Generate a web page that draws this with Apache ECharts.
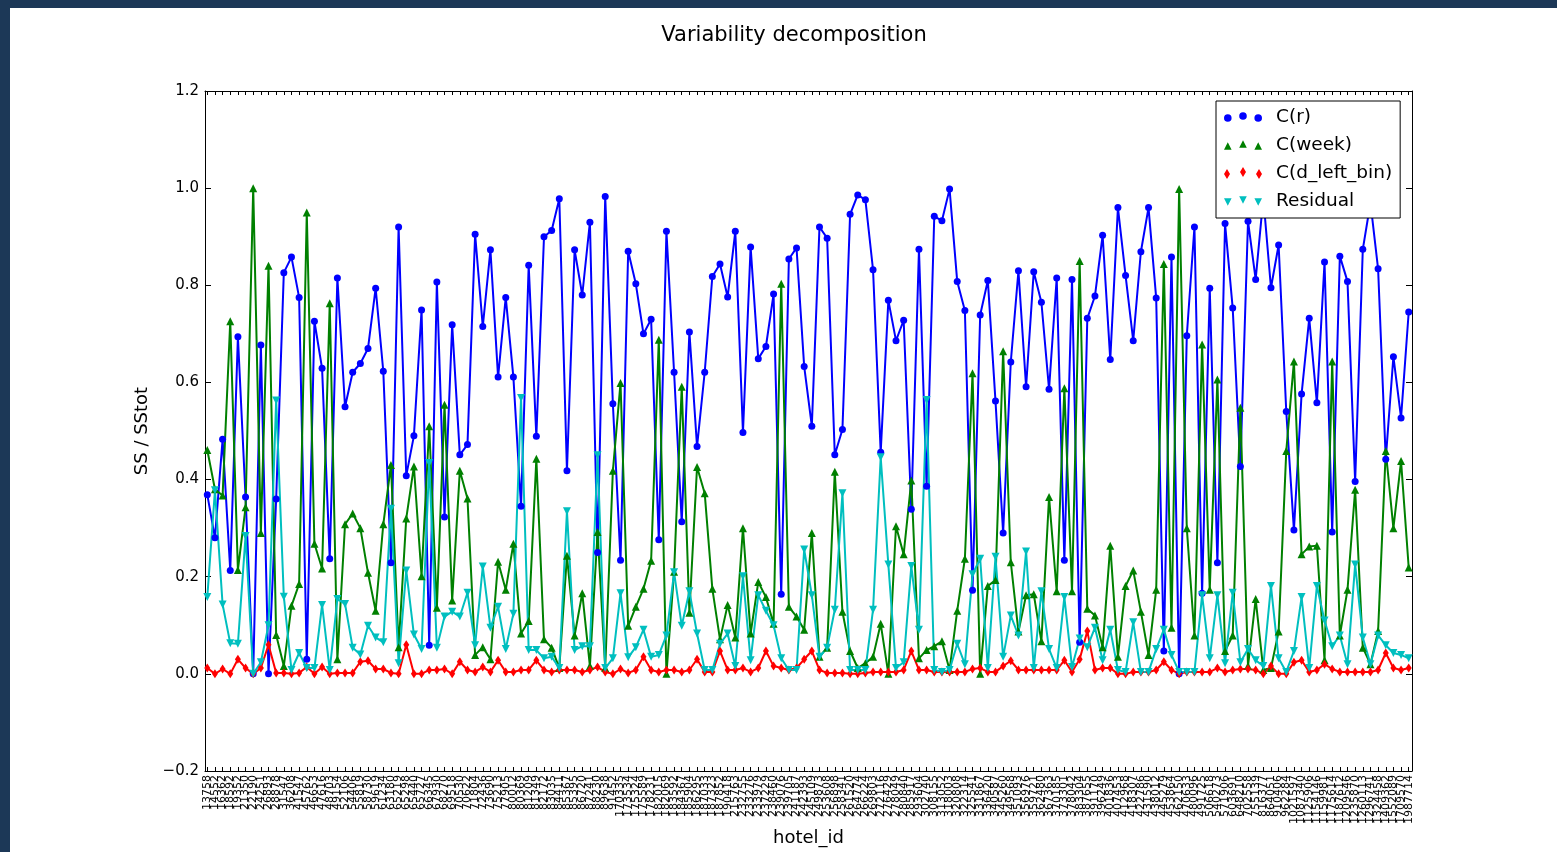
<!DOCTYPE html>
<html><head><meta charset="utf-8">
<script src="https://cdn.jsdelivr.net/npm/echarts@6/dist/echarts.min.js"></script>
<style>
html,body{margin:0;padding:0;background:#1c3857;width:1557px;height:852px;overflow:hidden}
#c{position:absolute;left:10px;top:8px;width:1547px;height:844px;background:#fff}
</style></head><body><div id="c"></div>
<script>
const hotelIds = [
13758,14552,16362,18592,19352,21350,22190,24251,26893,28878,
31547,36208,41547,45762,46653,47616,48703,49154,52106,54406,
55819,58730,59619,61234,63180,65219,65298,65440,65727,66345,
67930,68270,69518,70530,70622,71804,72436,73690,75213,77905,
80012,80369,81209,81349,82172,83035,84411,85367,85395,86720,
87241,88230,89638,91452,170335,173534,175324,175589,178231,182015,
182069,183592,184367,185904,186295,187033,187323,187852,190418,215763,
232755,233276,233979,237229,238460,239076,239705,241187,242393,245109,
249873,253608,256898,258341,261520,264774,266224,269803,272116,276429,
278049,280840,285917,293604,302740,308155,313052,318003,320808,322314,
325541,331867,336420,340587,345260,349568,351093,356976,359721,362480,
367363,370185,373301,378042,383304,387655,391170,396249,401836,407453,
412968,418307,422786,431590,438012,445279,453864,462150,470633,480096,
491725,506618,540273,571906,603691,648210,702558,755139,816377,864051,
910406,962284,1021597,1087340,1125906,1154146,1159981,1175614,1187612,1209546,
1235870,1260113,1296741,1324458,1409362,1552089,1709570,1987714];

const cR = [
0.369,0.28,0.483,0.213,0.694,0.364,0.0,0.677,0.0,0.36,
0.826,0.858,0.775,0.03,0.726,0.629,0.237,0.815,0.55,0.621,
0.639,0.67,0.794,0.623,0.229,0.92,0.408,0.49,0.749,0.059,
0.807,0.323,0.719,0.451,0.472,0.905,0.715,0.873,0.611,0.775,
0.611,0.345,0.841,0.489,0.90,0.913,0.978,0.418,0.873,0.78,
0.93,0.25,0.983,0.556,0.234,0.87,0.803,0.70,0.73,0.276,
0.911,0.621,0.313,0.704,0.468,0.621,0.818,0.844,0.776,0.911,
0.497,0.879,0.649,0.674,0.782,0.164,0.854,0.877,0.633,0.51,
0.92,0.897,0.451,0.503,0.946,0.986,0.976,0.832,0.456,0.769,
0.686,0.728,0.339,0.874,0.386,0.942,0.933,0.998,0.808,0.748,
0.172,0.739,0.81,0.562,0.29,0.642,0.83,0.591,0.828,0.765,
0.586,0.815,0.234,0.812,0.065,0.732,0.778,0.903,0.647,0.96,
0.82,0.686,0.869,0.96,0.774,0.047,0.858,0.0,0.696,0.92,
0.166,0.794,0.229,0.927,0.753,0.427,0.932,0.812,0.98,0.795,
0.883,0.54,0.296,0.576,0.732,0.558,0.848,0.292,0.86,0.808,
0.396,0.874,0.97,0.834,0.442,0.653,0.527,0.745];

const cWeek = [
0.461,0.38,0.367,0.726,0.214,0.343,1.0,0.29,0.84,0.08,
0.016,0.14,0.185,0.95,0.268,0.217,0.763,0.03,0.308,0.33,
0.30,0.208,0.13,0.308,0.43,0.055,0.32,0.427,0.201,0.51,
0.136,0.554,0.151,0.418,0.361,0.039,0.055,0.03,0.231,0.173,
0.268,0.083,0.109,0.443,0.071,0.054,0.012,0.243,0.079,0.166,
0.016,0.292,0.012,0.418,0.599,0.099,0.138,0.175,0.233,0.688,
0.0,0.21,0.591,0.126,0.426,0.372,0.175,0.071,0.142,0.075,
0.30,0.083,0.189,0.158,0.103,0.803,0.138,0.118,0.091,0.29,
0.035,0.054,0.416,0.128,0.047,0.012,0.022,0.035,0.103,0.0,
0.304,0.246,0.398,0.032,0.049,0.057,0.067,0.008,0.13,0.237,
0.619,0.0,0.181,0.193,0.664,0.23,0.087,0.162,0.164,0.067,
0.364,0.17,0.588,0.17,0.85,0.134,0.12,0.055,0.264,0.035,
0.181,0.213,0.128,0.039,0.173,0.844,0.095,0.998,0.30,0.079,
0.678,0.173,0.606,0.047,0.079,0.548,0.016,0.154,0.008,0.012,
0.087,0.459,0.643,0.246,0.262,0.264,0.028,0.643,0.079,0.173,
0.379,0.054,0.02,0.088,0.459,0.30,0.438,0.219];

const cDLeft = [
0.012,0.0,0.01,0.0,0.03,0.012,0.0,0.012,0.06,0.002,
0.002,0.0,0.002,0.014,0.0,0.014,0.0,0.002,0.002,0.002,
0.025,0.027,0.01,0.01,0.002,0.0,0.06,0.0,0.0,0.008,
0.008,0.01,0.0,0.025,0.008,0.004,0.014,0.004,0.028,0.004,
0.004,0.008,0.008,0.028,0.008,0.004,0.008,0.008,0.008,0.004,
0.008,0.014,0.004,0.0,0.01,0.002,0.008,0.035,0.008,0.004,
0.008,0.008,0.004,0.008,0.03,0.004,0.004,0.047,0.008,0.008,
0.012,0.004,0.012,0.047,0.016,0.012,0.008,0.012,0.03,0.047,
0.008,0.002,0.002,0.002,0.0,0.0,0.002,0.004,0.004,0.004,
0.004,0.008,0.047,0.008,0.008,0.004,0.004,0.004,0.004,0.004,
0.01,0.012,0.004,0.004,0.016,0.027,0.008,0.008,0.008,0.008,
0.008,0.008,0.028,0.004,0.03,0.088,0.008,0.012,0.012,0.0,
0.0,0.004,0.004,0.004,0.008,0.025,0.008,0.0,0.004,0.004,
0.004,0.004,0.012,0.004,0.008,0.01,0.01,0.008,0.0,0.016,
0.0,0.0,0.024,0.028,0.004,0.008,0.02,0.01,0.004,0.004,
0.004,0.004,0.004,0.008,0.043,0.012,0.008,0.012];

const residual = [
0.158,0.378,0.143,0.063,0.062,0.284,0.0,0.024,0.10,0.563,
0.159,0.008,0.043,0.012,0.012,0.142,0.008,0.154,0.144,0.054,
0.04,0.099,0.075,0.065,0.34,0.022,0.213,0.081,0.051,0.434,
0.054,0.118,0.128,0.118,0.167,0.059,0.221,0.095,0.138,0.051,
0.124,0.568,0.049,0.049,0.032,0.035,0.012,0.335,0.049,0.057,
0.057,0.45,0.012,0.032,0.166,0.034,0.055,0.091,0.035,0.039,
0.079,0.209,0.099,0.17,0.083,0.008,0.008,0.062,0.083,0.016,
0.201,0.028,0.162,0.13,0.10,0.032,0.008,0.008,0.256,0.162,
0.035,0.054,0.132,0.372,0.008,0.008,0.008,0.132,0.446,0.225,
0.012,0.024,0.222,0.091,0.564,0.008,0.004,0.008,0.062,0.02,
0.205,0.237,0.012,0.241,0.035,0.12,0.079,0.252,0.012,0.17,
0.051,0.012,0.158,0.014,0.073,0.055,0.095,0.028,0.091,0.008,
0.004,0.106,0.004,0.004,0.051,0.091,0.039,0.004,0.004,0.004,
0.162,0.032,0.162,0.022,0.167,0.024,0.051,0.028,0.016,0.181,
0.032,0.004,0.047,0.158,0.012,0.181,0.11,0.057,0.079,0.02,
0.225,0.075,0.02,0.079,0.059,0.043,0.039,0.032];

const seriesNames = ['C(r)','C(week)','C(d_left_bin)','Residual'];

const FONT = 'DejaVu Sans';
const idx = hotelIds.map((_, i) => i);
const toPts = arr => arr.map((v, i) => [i, v]);

function circ(cx, cy, r){return 'M'+(cx-r)+','+cy+'a'+r+','+r+' 0 1,0 '+(2*r)+',0a'+r+','+r+' 0 1,0 '+(-2*r)+',0Z';}
function triUp(cx, cy, h){return 'M'+(cx-h)+','+(cy+h)+'L'+cx+','+(cy-h)+'L'+(cx+h)+','+(cy+h)+'Z';}
function triDown(cx, cy, h){return 'M'+(cx-h)+','+(cy-h)+'L'+(cx+h)+','+(cy-h)+'L'+cx+','+(cy+h)+'Z';}
function dia(cx, cy, w, h){return 'M'+cx+','+(cy-h)+'L'+(cx+w)+','+cy+'L'+cx+','+(cy+h)+'L'+(cx-w)+','+cy+'Z';}
const centers = [[4,7],[20,5],[36,7]];
const icons = [
  'path://' + centers.map(c => circ(c[0], c[1], 4)).join(''),
  'path://' + centers.map(c => triUp(c[0], c[1], 4)).join(''),
  'path://' + centers.map(c => dia(c[0], c[1], 3, 5)).join(''),
  'path://' + centers.map(c => triDown(c[0], c[1], 4)).join('')
];
const colors = ['#0000ff','#008000','#ff0000','#00bfbf'];

const chart = echarts.init(document.getElementById('c'), null, {renderer:'canvas'});
const xMin = -0.3, xMax = 157.43;
const axisLineStyle = {color:'#000', width:1};
chart.setOption({
  animation:false,
  backgroundColor:'#ffffff',
  title:{text:'Variability decomposition', left:779, top:12, textAlign:'center',
    textStyle:{fontFamily:FONT, fontSize:21, fontWeight:'normal', color:'#000'}},
  legend:{
    orient:'vertical', left:1206, top:93,
    padding:[6,8,7,8], itemGap:8, itemWidth:38, itemHeight:12,
    backgroundColor:'#fff', borderColor:'#000', borderWidth:1, borderRadius:0,
    textStyle:{fontFamily:FONT, fontSize:18.5, color:'#000', lineHeight:20, padding:[0,0,0,9]},
    data: seriesNames.map((n, i) => ({name:n, icon:icons[i]}))
  },
  grid:[
    {left:195, right:145, top:83, bottom:81, containLabel:false},
    {left:197.3, right:148.3, top:83, bottom:81, containLabel:false}
  ],
  xAxis:[{
    type:'value', min:xMin, max:xMax, position:'bottom', gridIndex:0,
    name:'hotel_id', nameLocation:'middle', nameGap:58,
    nameTextStyle:{fontFamily:FONT, fontSize:18, color:'#000'},
    axisLine:{show:true, onZero:false, lineStyle:axisLineStyle},
    axisTick:{show:true, inside:true, length:4, customValues:idx, lineStyle:axisLineStyle},
    axisLabel:{show:false},
    splitLine:{show:false}
  },{
    type:'value', min:xMin, max:xMax, position:'top', gridIndex:0,
    axisLine:{show:true, onZero:false, lineStyle:axisLineStyle},
    axisTick:{show:true, inside:true, length:4, customValues:idx, lineStyle:axisLineStyle},
    axisLabel:{show:false}, splitLine:{show:false}
  },{
    type:'category', gridIndex:1, position:'bottom', boundaryGap:false,
    data: hotelIds.map(String),
    axisLine:{show:false, onZero:false}, axisTick:{show:false},
    axisLabel:{show:true, interval:0, rotate:90, fontFamily:FONT, fontSize:11, color:'#000', margin:4},
    splitLine:{show:false}
  }],
  yAxis:[{
    type:'value', min:-0.2, max:1.2, interval:0.2, position:'left', gridIndex:0,
    name:'SS / SStot', nameLocation:'middle', nameGap:44,
    nameTextStyle:{fontFamily:FONT, fontSize:18, color:'#000'},
    axisLine:{show:true, onZero:false, lineStyle:axisLineStyle},
    axisTick:{show:true, inside:true, length:6, lineStyle:axisLineStyle},
    axisLabel:{fontFamily:FONT, fontSize:15, color:'#000', margin:6,
      formatter: v => { const r = Math.round(v*10)/10; return r < 0 ? '\u2212' + Math.abs(r).toFixed(1) : r.toFixed(1); }},
    splitLine:{show:false}
  },{
    type:'value', min:-0.2, max:1.2, interval:0.2, position:'right', gridIndex:0,
    axisLine:{show:true, onZero:false, lineStyle:axisLineStyle},
    axisTick:{show:true, inside:true, length:6, lineStyle:axisLineStyle},
    axisLabel:{show:false}, splitLine:{show:false}
  },{
    type:'value', gridIndex:1, show:false, min:-0.2, max:1.2
  }],
  series:[
    {name:seriesNames[0], type:'line', xAxisIndex:0, yAxisIndex:0, data:toPts(cR), symbol:'circle', symbolSize:7,
     lineStyle:{color:colors[0], width:2}, itemStyle:{color:colors[0]}},
    {name:seriesNames[1], type:'line', xAxisIndex:0, yAxisIndex:0, data:toPts(cWeek), symbol:'triangle', symbolSize:8,
     lineStyle:{color:colors[1], width:2}, itemStyle:{color:colors[1]}},
    {name:seriesNames[2], type:'line', xAxisIndex:0, yAxisIndex:0, data:toPts(cDLeft), symbol:'diamond', symbolSize:[6,9],
     lineStyle:{color:colors[2], width:2}, itemStyle:{color:colors[2]}},
    {name:seriesNames[3], type:'line', xAxisIndex:0, yAxisIndex:0, data:toPts(residual), symbol:'triangle', symbolRotate:180, symbolSize:8,
     lineStyle:{color:colors[3], width:2}, itemStyle:{color:colors[3]}}
  ]
});
</script></body></html>
